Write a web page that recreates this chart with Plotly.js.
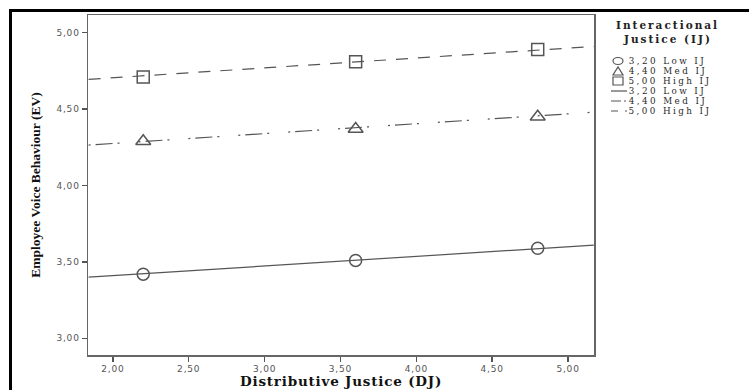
<!DOCTYPE html>
<html><head><meta charset="utf-8">
<script src="https://cdn.plot.ly/plotly-3.0.1.min.js"></script>
<style>
html,body{margin:0;padding:0;background:#fff;}
#wrap{position:relative;width:749px;height:390px;}
#chart{position:absolute;left:0;top:0;width:749px;height:390px;}
#frame{position:absolute;left:9px;top:9px;width:760px;height:400px;border-left:3px solid #000;border-top:3px solid #000;pointer-events:none;}
#chart g.annotation text{letter-spacing:2.4px;}
#chart g.annotation[data-index="0"] text, #chart g.annotation[data-index="1"] text{letter-spacing:2px;}
#chart g.annotation[data-index="8"] text{letter-spacing:0.8px;}
#chart .xtick text, #chart .ytick text{letter-spacing:0.8px;}
</style></head>
<body><div id="wrap"><div id="chart"></div><div id="frame"></div></div>
<script>
// Data
const djPoints = [2.20, 3.60, 4.80];
const lowIJ = [3.42, 3.51, 3.59];
const medIJ = [4.29, 4.37, 4.45];
const highIJ = [4.71, 4.81, 4.89];
const fitX = [1.84, 5.17];
const lowFit = [3.40, 3.61];
const medFit = [4.265, 4.48];
const highFit = [4.695, 4.91];
const xTickVals = [2.0, 2.5, 3.0, 3.5, 4.0, 4.5, 5.0];
const xTickText = ['2,00','2,50','3,00','3,50','4,00','4,50','5,00'];
const yTickVals = [3.0, 3.5, 4.0, 4.5, 5.0];
const yTickText = ['3,00','3,50','4,00','4,50','5,00'];
const legendTitle = ['Interactional', 'Justice (IJ)'];
const legendLabels = ['3,20 Low IJ','4,40 Med IJ','5,00 High IJ','3,20 Low IJ','4,40 Med IJ','5,00 High IJ'];
const xTitle = 'Distributive Justice (DJ)';
const yTitle = 'Employee Voice Behaviour (EV)';

const C = '#555';
const serif = 'Liberation Serif, Times New Roman, serif';
const wideSerif = 'DejaVu Serif, serif';
const dashMed = '2px,5px,17px,5px,2px,19px';
const dashHigh = '12px,10px';
const LS = 2.4; // legend letter spacing (px), matches CSS above

const traces = [
  {x: fitX, y: lowFit, mode: 'lines', line: {color: C, width: 1.2}, showlegend: false, hoverinfo: 'skip'},
  {x: fitX, y: medFit, mode: 'lines', line: {color: C, width: 1.2, dash: dashMed}, showlegend: false, hoverinfo: 'skip'},
  {x: fitX, y: highFit, mode: 'lines', line: {color: C, width: 1.2, dash: dashHigh}, showlegend: false, hoverinfo: 'skip'},
  {x: djPoints, y: lowIJ, mode: 'markers', marker: {symbol: 'circle-open', size: 12, color: C, line: {width: 1.5, color: C}}, showlegend: false},
  {x: djPoints, y: medIJ, mode: 'markers', marker: {symbol: 'triangle-up-open', size: 13, color: C, line: {width: 1.5, color: C}}, showlegend: false},
  {x: djPoints, y: highIJ, mode: 'markers', marker: {symbol: 'square-open', size: 12, color: C, line: {width: 1.5, color: C}}, showlegend: false}
];

const W = 749, H = 390, L = 88, R = 155, T = 15, B = 35;
const pw = W - L - R, ph = H - T - B;
const px = p => (p - L) / pw;
const py = p => (H - B - p) / ph;

// Legend drawn by hand (tight spacing as in the reference)
const entryY = [61, 71, 81, 91, 101, 111];
const symX = 618, textX = 628;
const shapes = [];
const annotations = [
  {xref: 'paper', yref: 'paper', x: px(667), y: py(25), text: '<b>' + legendTitle[0] + '</b>', showarrow: false, xanchor: 'center', yanchor: 'middle', font: {family: wideSerif, size: 10.5, color: '#222'}},
  {xref: 'paper', yref: 'paper', x: px(667), y: py(39), text: '<b>' + legendTitle[1] + '</b>', showarrow: false, xanchor: 'center', yanchor: 'middle', font: {family: wideSerif, size: 10.5, color: '#222'}}
];
legendLabels.forEach((lab, i) => {
  annotations.push({xref: 'paper', yref: 'paper', x: px(textX + lab.length * LS / 2), y: py(entryY[i]), text: lab, showarrow: false, xanchor: 'left', yanchor: 'middle', borderpad: 0, font: {family: wideSerif, size: 8.8, color: '#2a2a2a'}});
});
// x axis title (index 8)
annotations.push({xref: 'paper', yref: 'paper', x: 0.5, y: py(381), text: '<b>' + xTitle + '</b>', showarrow: false, xanchor: 'center', yanchor: 'middle', borderpad: 0, font: {family: wideSerif, size: 13.5, color: '#111'}});

// legend symbols
shapes.push({type: 'circle', xref: 'paper', yref: 'paper', x0: px(symX - 5), x1: px(symX + 5), y0: py(entryY[0] - 3.5), y1: py(entryY[0] + 3.5), line: {color: C, width: 1.2}});
shapes.push({type: 'path', xref: 'paper', yref: 'paper', path: `M ${px(symX-5)} ${py(entryY[1]+4)} L ${px(symX+5)} ${py(entryY[1]+4)} L ${px(symX)} ${py(entryY[1]-4)} Z`, line: {color: C, width: 1.2}});
shapes.push({type: 'rect', xref: 'paper', yref: 'paper', x0: px(symX - 5), x1: px(symX + 5), y0: py(entryY[2] - 4), y1: py(entryY[2] + 4), line: {color: C, width: 1.2}});
for (let k = 0; k < 3; k++) {
  shapes.push({type: 'line', xref: 'paper', yref: 'paper', x0: px(611), x1: px(627), y0: py(entryY[3 + k]), y1: py(entryY[3 + k]), line: {color: C, width: 1.2, dash: k === 2 ? '7px,7px' : (k === 1 ? '10px,3px,2px,3px' : 'solid')}});
}

const layout = {
  width: W, height: H,
  margin: {l: L, r: R, t: T, b: B, pad: 0},
  paper_bgcolor: '#fff', plot_bgcolor: '#fff',
  showlegend: false,
  xaxis: {
    range: [1.836, 5.171], tickvals: xTickVals, ticktext: xTickText,
    ticks: 'outside', ticklen: 5, tickwidth: 1.5, tickcolor: '#555',
    showline: true, linecolor: '#666', linewidth: 1.5, mirror: true,
    showgrid: false, zeroline: false,
    tickfont: {family: 'DejaVu Sans, sans-serif', size: 9, color: '#555'}
  },
  yaxis: {
    range: [2.891, 5.116], tickvals: yTickVals, ticktext: yTickText,
    ticks: 'outside', ticklen: 5, tickwidth: 1.5, tickcolor: '#555',
    showline: true, linecolor: '#666', linewidth: 1.5, mirror: true,
    showgrid: false, zeroline: false,
    tickfont: {family: 'DejaVu Sans, sans-serif', size: 9, color: '#555'},
    title: {text: '<b>' + yTitle + '</b>', font: {family: serif, size: 13.5, color: '#111'}, standoff: 16}
  },
  shapes: shapes,
  annotations: annotations
};

Plotly.newPlot('chart', traces, layout, {displayModeBar: false, staticPlot: true});
</script>
</body></html>
